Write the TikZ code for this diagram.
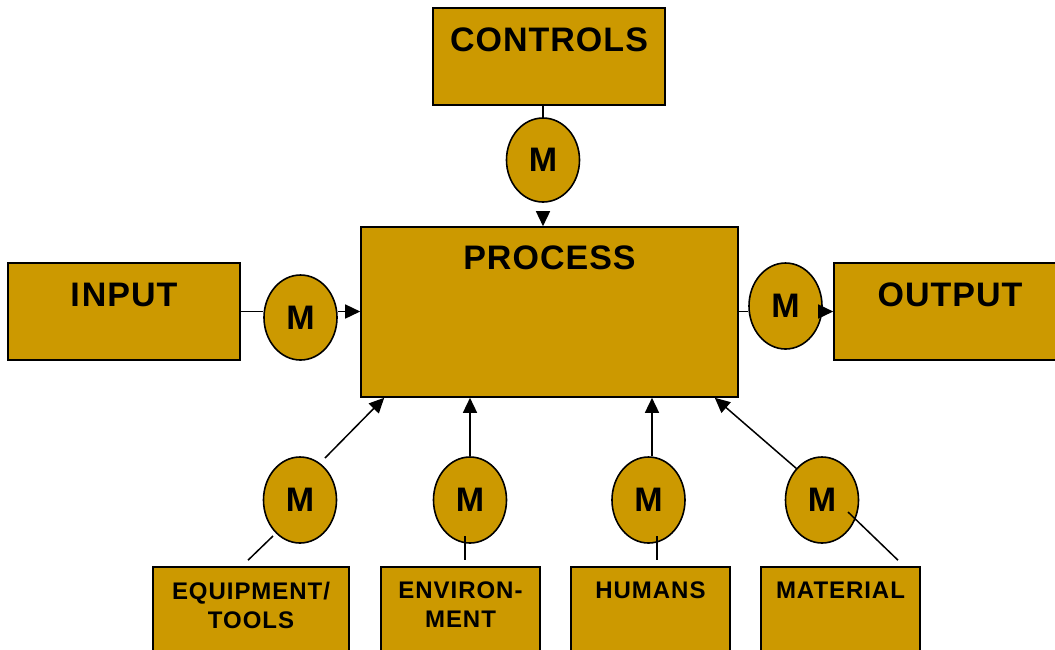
\documentclass[tikz,border=0pt]{standalone}
\usepackage{fontspec}
\setmainfont{Liberation Sans}
\newfontfamily\titlefont[LetterSpace=3]{Liberation Sans}
\newfontfamily\tagfont[LetterSpace=4]{Liberation Sans}
\usetikzlibrary{arrows.meta,calc,shapes.geometric}
\definecolor{gold}{HTML}{CC9900}
\begin{document}
\begin{tikzpicture}[x=1pt,y=-1pt,
  box/.style={draw=black, line width=1.6pt, fill=gold, rectangle, inner sep=0pt},
  meter/.style={draw=black, line width=1.6pt, fill=gold, ellipse, inner sep=0pt,
    minimum width=73pt, minimum height=85pt,
    font=\fontsize{34}{40}\selectfont\bfseries},
  bigtitle/.style={anchor=north, inner sep=0pt, yshift=-#1,
    font=\titlefont\fontsize{34}{40}\selectfont\bfseries},
  smalltitle/.style={anchor=north, inner sep=0pt, yshift=-15.5pt, align=center,
    font=\tagfont\fontsize{24}{29}\selectfont\bfseries},
  link/.style={line width=1.5pt},
  feed/.style={line width=1.5pt, -{Triangle[length=15pt,width=14pt]}},
]
\useasboundingbox[fill=white] (0,0) rectangle (1055,649);

% main blocks
\node[box, minimum width=232pt, minimum height=97pt,
  label={[bigtitle=20.5pt]north:CONTROLS}] (ctrl) at (549,56.5) {};
\node[box, minimum width=377pt, minimum height=170pt,
  label={[bigtitle=19pt]north:PROCESS}] (proc) at (549.5,312) {};
\node[box, minimum width=232pt, minimum height=97pt,
  label={[bigtitle=21pt]north:I\kern2pt NPUT}] (inp) at (124,311.5) {};
\node[box, minimum width=232pt, minimum height=97pt,
  label={[bigtitle=20.5pt]north:OUTPUT}] (outp) at (950,311.5) {};

% resource blocks
\node[box, minimum width=196pt, minimum height=97pt,
  label={[smalltitle]north:EQUIPMENT/\\TOOLS}] (eq) at (251,615.5) {};
\node[box, minimum width=159pt, minimum height=97pt,
  label={[smalltitle]north:ENVIRON-\\MENT}] (env) at (460.5,615.5) {};
\node[box, minimum width=159pt, minimum height=97pt,
  label={[smalltitle]north:HUMANS}] (hum) at (650.5,615.5) {};
\node[box, minimum width=159pt, minimum height=97pt,
  label={[smalltitle]north:MATERIAL}] (mat) at (840.5,615.5) {};

% measurement points
\node[meter, minimum height=84pt] (mc) at (543,160) {M};
\node[meter] (mi) at (300.5,317.5) {M};
\node[meter, minimum height=86pt] (mo) at (785.5,306) {M};
\node[meter, minimum height=86pt] (m1) at (300,500) {M};
\node[meter, minimum height=86pt] (m2) at (470,500) {M};
\node[meter, minimum height=86pt] (m3) at (648.5,500) {M};
\node[meter, minimum height=86pt] (m4) at (822,500) {M};

% controls
\draw[link] (ctrl.south -| mc) -- (mc.north);
\draw[feed, shorten <=9pt] (mc.south) -- (mc |- proc.north);

% input and output
\draw[link] (inp.east) -- (inp.east -| mi.west);
\draw[feed] (inp.east -| mi.east) -- (inp.east -| proc.west);
\draw[link] (proc.east |- outp.west) -- (outp.west -| mo.west);
\draw[feed] (outp.west -| mo.east) -- (outp.west);

% resources into the process
\draw[feed] ($(m1)+(25,-42)$) -- ($(proc.south west)+(24,0)$);
\draw[feed] (m2.north) -- (m2 |- proc.south);
\draw[feed] ($(m3.north)+(3.5,0)$) -- ($(m3.north |- proc.south)+(3.5,0)$);
\draw[feed] ($(m4)+(-25,-31)$) -- ($(proc.south east)+(-24,0)$);

% resources to their meters
\draw[link] ($(m1)+(-27,36)$) -- ($(eq.north)+(-3,-6)$);
\draw[link] ($(m2)+(-5,36)$) -- ($(env.north)+(4.5,-6)$);
\draw[link] ($(m3)+(8.5,36)$) -- ($(hum.north)+(6.5,-6)$);
\draw[link] ($(m4)+(26,12)$) -- ($(mat.north)+(57.5,-6)$);
\end{tikzpicture}
\end{document}
